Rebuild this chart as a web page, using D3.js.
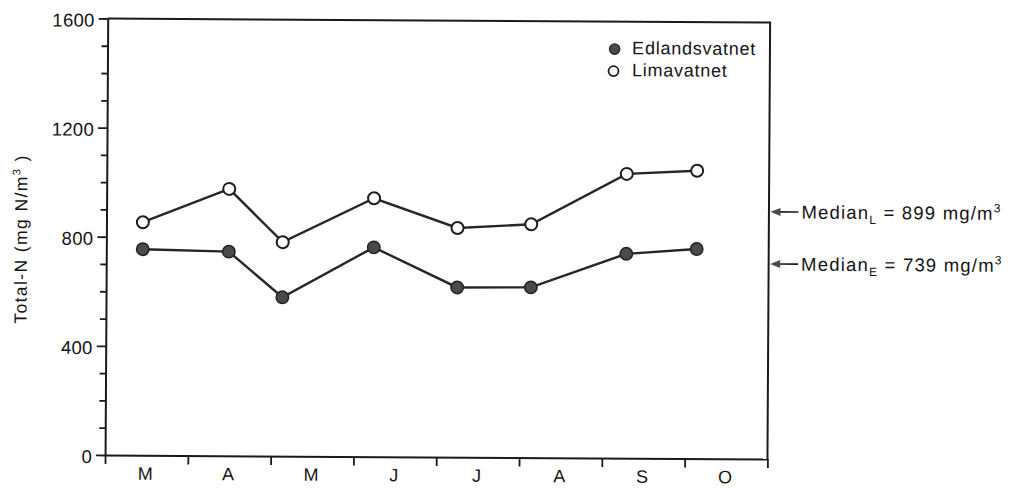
<!DOCTYPE html>
<html><head><meta charset="utf-8">
<script src="https://cdn.jsdelivr.net/npm/d3@7"></script>
<style>
body{margin:0;background:#fff}
text{font-family:"Liberation Sans",Arial,sans-serif;fill:#151515}
</style>
</head><body><svg id="c" width="1012" height="488"></svg>
<script>
// ---- data ----
const months = ["M","A","M","J","J","A","S","O"];
const samplePos = [0.44,1.48,2.13,3.23,4.24,5.13,6.28,7.13]; // sampling time, in months from 1 March
const edlandsvatnet = [755,748,582,767,622,624,749,768];
const limavatnet = [854,978,784,947,840,855,1042,1055];
const yTicks = [0,400,800,1200,1600];
const yMinorTicks = [100,200,300,500,600,700,900,1000,1100,1300,1400,1500];
const seriesNames = ["Edlandsvatnet","Limavatnet"];
const medianKeys = ["L","E"];
const medianValues = [899,739];
const medianArrowAt = [906,715];

// ---- layout ----
const svg = d3.select("#c");
const g = svg.append("g").attr("transform","rotate(0.35,437,237)");
const x = d3.scaleLinear().domain([0,8]).range([106.4,768.8]);
const y = d3.scaleLinear().domain([0,1600]).range([457,20.5]);
const ink = "#1a1a1a";
const FONT = "'Liberation Sans',Arial,sans-serif";

// minor y ticks
g.append("g").attr("transform",`translate(${x(0)},0)`)
  .call(d3.axisLeft(y).tickValues(yMinorTicks).tickSize(6).tickSizeOuter(0).tickFormat(""))
  .call(s=>s.select(".domain").remove())
  .call(s=>s.selectAll("line").attr("stroke",ink).attr("stroke-width",1.8));
// major y ticks
const ya = g.append("g").attr("transform",`translate(${x(0)},0)`)
  .call(d3.axisLeft(y).tickValues(yTicks).tickSize(9).tickSizeOuter(0).tickPadding(4)
        .tickFormat(d3.format("d")));
ya.select(".domain").attr("stroke",ink).attr("stroke-width",2);
ya.selectAll("line").attr("stroke",ink).attr("stroke-width",1.8);
ya.selectAll("text").attr("font-size",18.5).attr("dy","0.42em").attr("letter-spacing",0.3)
  .style("font-family",FONT);

// x axis ticks
const xa = g.append("g").attr("transform",`translate(0,${y(0)})`)
  .call(d3.axisBottom(x).tickValues(d3.range(0,9)).tickSize(9).tickSizeOuter(0).tickFormat(""));
xa.select(".domain").attr("stroke",ink).attr("stroke-width",2);
xa.selectAll("line").attr("stroke",ink).attr("stroke-width",1.8);
// month labels
const xl = g.append("g").attr("transform",`translate(0,${y(0)})`)
  .call(d3.axisBottom(x).tickValues(months.map((m,i)=>i+0.5)).tickSize(0)
        .tickFormat((d,i)=>months[i]));
xl.select(".domain").remove();
xl.selectAll("text").attr("y",24.5).attr("dy",0).attr("dx",-1.5).attr("font-size",18)
  .style("font-family",FONT);

// frame (top & right)
g.append("path")
  .attr("d",`M${x(0)},${y(1600)}H${x(8)}V${y(0)}`)
  .attr("fill","none").attr("stroke",ink).attr("stroke-width",2);

// y label
g.append("text")
  .attr("transform",`translate(27,241.5) rotate(-90)`)
  .attr("text-anchor","middle").attr("font-size",17.5).attr("letter-spacing",1.4)
  .html('Total-N (mg N/m<tspan dy="-7" font-size="11">3</tspan><tspan dy="7"> )</tspan>');

// lines
const line = d3.line().x((d,i)=>x(samplePos[i])).y(d=>y(d));
[limavatnet, edlandsvatnet].forEach(s=>{
  g.append("path").datum(s).attr("d",line).attr("fill","none")
   .attr("stroke","#262626").attr("stroke-width",2.4);
});
// points
g.append("g").selectAll("circle").data(limavatnet).join("circle")
  .attr("cx",(d,i)=>x(samplePos[i])).attr("cy",d=>y(d)).attr("r",6)
  .attr("fill","#fff").attr("stroke","#1e1e1e").attr("stroke-width",2);
g.append("g").selectAll("circle").data(edlandsvatnet).join("circle")
  .attr("cx",(d,i)=>x(samplePos[i])).attr("cy",d=>y(d)).attr("r",6.2)
  .attr("fill","#4a4a4a").attr("stroke","#222").attr("stroke-width",1.5);

// legend
const lg = g.append("g");
lg.append("circle").attr("cx",613.5).attr("cy",48).attr("r",5.2).attr("fill","#4a4a4a").attr("stroke","#222").attr("stroke-width",1.2);
lg.append("circle").attr("cx",612.5).attr("cy",70).attr("r",5).attr("fill","#fff").attr("stroke","#1e1e1e").attr("stroke-width",1.8);
lg.selectAll("text").data(seriesNames).join("text")
  .attr("x",631).attr("y",(d,i)=>53+i*22).attr("font-size",18).attr("letter-spacing",0.75)
  .text(d=>d);

// median annotations
medianKeys.forEach((k,i)=>{
  const yy = y(medianArrowAt[i]);
  const tip = x(8)+1.5;
  g.append("line").attr("x1",tip+6).attr("x2",tip+28).attr("y1",yy).attr("y2",yy)
    .attr("stroke",ink).attr("stroke-width",1.6);
  g.append("path").attr("d",`M${tip},${yy}L${tip+10},${yy-4}L${tip+10},${yy+4}Z`).attr("fill","#4a4a4a");
  g.append("text").attr("x",tip+31).attr("y",yy+6.5).attr("font-size",18.5).attr("letter-spacing",1.2)
    .html(`Median<tspan dy="5" font-size="12">${k}</tspan><tspan dy="-5"> = ${medianValues[i]} mg/m</tspan><tspan dy="-7.5" font-size="12">3</tspan>`);
});
</script></body></html>
